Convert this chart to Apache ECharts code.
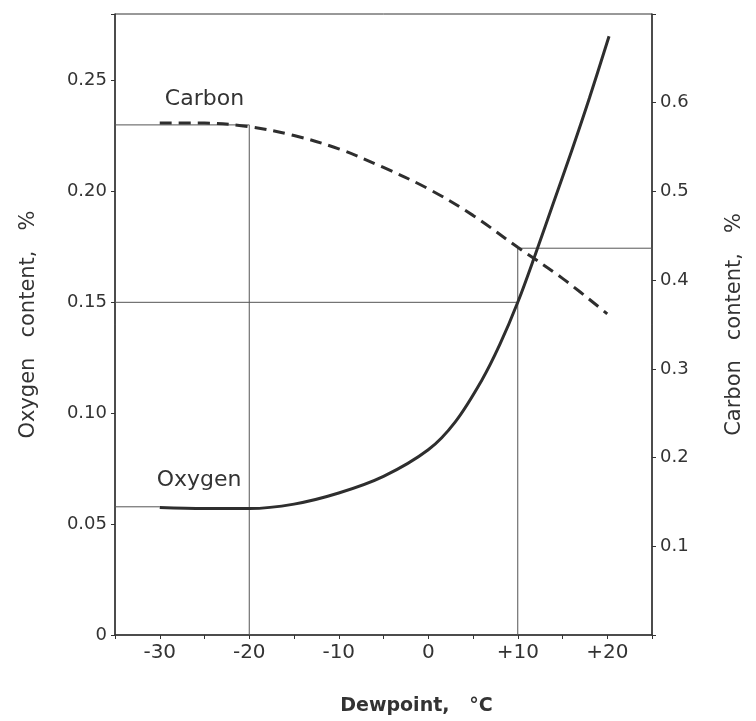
<!DOCTYPE html>
<html>
<head>
<meta charset="utf-8">
<script src="https://cdn.jsdelivr.net/npm/echarts@6/dist/echarts.min.js"></script>
<style>
html,body{margin:0;padding:0;background:#fff;}
#chart{width:756px;height:721px;}
</style>
</head>
<body>
<div id="chart"></div>
<script>
// ---- data ----
const xTickValues = [-30, -20, -10, 0, 10, 20];
const oxygenDewpoint = [-30, -25, -20, -15, -10, -5, 0, 3, 6, 8, 10, 12, 14, 16, 18, 20.2];
const oxygenContent  = [0.0575, 0.0570, 0.0570, 0.0590, 0.0640, 0.0715, 0.0835, 0.0960, 0.1150, 0.1310, 0.1500, 0.1720, 0.1950, 0.2180, 0.2420, 0.2700];
const carbonDewpoint = [-30, -25, -20, -15, -10, -5, 0, 5, 10, 15, 20];
const carbonContent  = [0.577, 0.577, 0.573, 0.563, 0.548, 0.527, 0.503, 0.473, 0.437, 0.402, 0.362];
// guide (construction) lines
const guideCarbonStartX = [-36, -20, -20];
const guideCarbonStartY = [0.575, 0.575, 0];
const guideOxygen10X = [-35, 10];
const guideOxygen10Y = [0.150, 0.150];
const guideCarbon10X = [10, 10, 26.4];
const guideCarbon10Y = [0, 0.436, 0.436];
const guideOxygenStartX = [-36, -30];
const guideOxygenStartY = [0.0578, 0.0578];

const zip = (xs, ys) => xs.map((x, i) => [x, ys[i]]);
const FONT = 'DejaVu Sans';
const INK = '#333';

const chart = echarts.init(document.getElementById('chart'));
const guideStyle = {color: '#555', width: 1};
function guide(xs, ys, yIdx) {
  return {type: 'line', data: zip(xs, ys), yAxisIndex: yIdx, showSymbol: false, clip: false,
          lineStyle: guideStyle, z: 1, silent: true, animation: false};
}
chart.setOption({
  backgroundColor: '#fff',
  animation: false,
  grid: {left: 115, right: 104, top: 14, bottom: 86, show: true, borderColor: INK, borderWidth: 1},
  xAxis: {
    type: 'value', min: -35, max: 25, interval: 5,
    axisLine: {show: true, onZero: false, lineStyle: {color: INK, width: 1.5}},
    axisTick: {show: true, length: 4, lineStyle: {color: INK}},
    splitLine: {show: false},
    axisLabel: {
      margin: 8, fontSize: 20, fontFamily: FONT, color: INK,
      formatter: v => xTickValues.includes(v) ? (v > 0 ? '+' + v : String(v)) : ''
    },
    name: 'Dewpoint,   °C', nameLocation: 'middle', nameGap: 62,
    nameTextStyle: {fontSize: 19, fontWeight: 'bold', fontFamily: FONT, color: INK, padding: [0, 0, 0, 66]}
  },
  yAxis: [{
    type: 'value', min: 0, max: 0.28, interval: 0.05, position: 'left',
    axisLine: {show: true, onZero: false, lineStyle: {color: INK, width: 1.5}},
    axisTick: {show: true, length: 4, lineStyle: {color: INK}},
    splitLine: {show: false},
    axisLabel: {
      margin: 8, fontSize: 18, fontFamily: FONT, color: INK,
      formatter: v => v === 0 ? '0' : (Math.abs(v / 0.05 - Math.round(v / 0.05)) < 1e-6 ? v.toFixed(2) : '')
    },
    name: 'Oxygen   content,   %', nameLocation: 'middle', nameGap: 76,
    nameTextStyle: {fontSize: 21, fontFamily: FONT, color: INK}
  }, {
    type: 'value', min: 0, max: 0.7, interval: 0.1, position: 'right',
    axisLine: {show: true, onZero: false, lineStyle: {color: INK, width: 1.5}},
    axisTick: {show: true, length: 4, lineStyle: {color: INK}},
    splitLine: {show: false},
    axisLabel: {
      margin: 8, fontSize: 18, fontFamily: FONT, color: INK,
      formatter: v => (v > 0.05 && v < 0.65) ? v.toFixed(1) : ''
    },
    name: 'Carbon   content,   %', nameLocation: 'middle', nameGap: 72,
    nameTextStyle: {fontSize: 21, fontFamily: FONT, color: INK}
  }],
  series: [
    guide(guideCarbonStartX, guideCarbonStartY, 1),
    guide(guideOxygen10X, guideOxygen10Y, 0),
    guide(guideCarbon10X, guideCarbon10Y, 1),
    guide(guideOxygenStartX, guideOxygenStartY, 0),
    {
      name: 'Oxygen', type: 'line', yAxisIndex: 0, data: zip(oxygenDewpoint, oxygenContent),
      smooth: 0.35, showSymbol: false, z: 3,
      lineStyle: {color: '#2e2e2e', width: 3},
      markPoint: {
        symbol: 'circle', symbolSize: 0, silent: true,
        label: {show: true, position: 'inside', fontSize: 22, fontFamily: FONT, color: INK, formatter: 'Oxygen'},
        data: [{coord: [-25.6, 0.0697]}]
      }
    },
    {
      name: 'Carbon', type: 'line', yAxisIndex: 1, data: zip(carbonDewpoint, carbonContent),
      smooth: 0.35, showSymbol: false, z: 3,
      lineStyle: {color: '#2e2e2e', width: 3, type: [12, 7]},
      markPoint: {
        symbol: 'circle', symbolSize: 0, silent: true,
        label: {show: true, position: 'inside', fontSize: 22, fontFamily: FONT, color: INK, formatter: 'Carbon'},
        data: [{coord: [-25.0, 0.6035]}]
      }
    }
  ]
});
</script>
</body>
</html>
